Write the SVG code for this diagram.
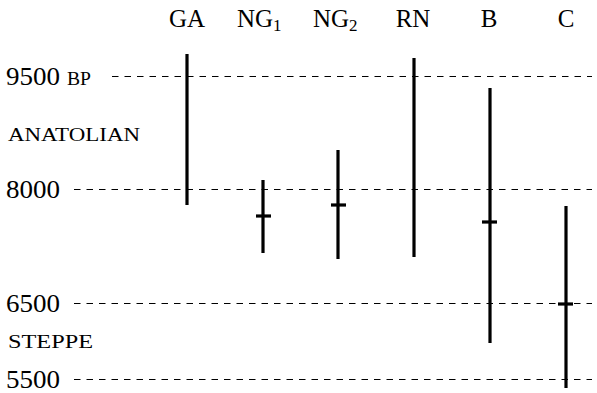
<svg xmlns="http://www.w3.org/2000/svg" width="597" height="393" viewBox="0 0 597 393">
<style>
.grid line{stroke:#000;stroke-width:1;stroke-dasharray:6.5 6}
.bars line{stroke:#000;stroke-width:3.2}
</style>
<rect width="597" height="393" fill="#fff"/>
<g id="axis-labels" font-family="'Liberation Serif', 'DejaVu Serif', serif" fill="#000">
<text font-size="25" x="6" y="85" textLength="54" lengthAdjust="spacingAndGlyphs">9500</text>
<text font-size="19.5" x="67" y="85" textLength="24" lengthAdjust="spacingAndGlyphs">BP</text>
<text font-size="19.5" x="8" y="141" textLength="132" lengthAdjust="spacingAndGlyphs">ANATOLIAN</text>
<text font-size="25" x="6" y="198" textLength="54" lengthAdjust="spacingAndGlyphs">8000</text>
<text font-size="25" x="6" y="312" textLength="54" lengthAdjust="spacingAndGlyphs">6500</text>
<text font-size="19.5" x="8" y="348" textLength="85" lengthAdjust="spacingAndGlyphs">STEPPE</text>
<text font-size="25" x="6" y="388" textLength="54" lengthAdjust="spacingAndGlyphs">5500</text>
</g>
<g id="column-labels" font-family="'Liberation Serif', 'DejaVu Serif', serif" font-size="25" fill="#000">
<text x="187" y="27" text-anchor="middle">GA</text>
<text x="237" y="27">NG<tspan font-size="17" dy="4">1</tspan></text>
<text x="313" y="27">NG<tspan font-size="17" dy="4">2</tspan></text>
<text x="413" y="27" text-anchor="middle">RN</text>
<text x="489" y="27" text-anchor="middle">B</text>
<text x="566" y="27" text-anchor="middle">C</text>
</g>
<g id="connectors" class="grid">
<line x1="112" y1="76.5" x2="592" y2="76.5"/>
<line x1="74" y1="189.5" x2="592" y2="189.5"/>
<line x1="74" y1="303.5" x2="592" y2="303.5"/>
<line x1="74" y1="379.5" x2="592" y2="379.5"/>
</g>
<g class="bars">
<g id="GA"><line x1="187" y1="54" x2="187" y2="205"/></g>
<g id="NG1"><line x1="263" y1="180" x2="263" y2="253"/><line x1="256" y1="216" x2="271" y2="216"/></g>
<g id="NG2"><line x1="338" y1="150" x2="338" y2="259"/><line x1="331" y1="205" x2="346" y2="205"/></g>
<g id="RN"><line x1="414" y1="58" x2="414" y2="257"/></g>
<g id="B"><line x1="490" y1="88" x2="490" y2="343"/><line x1="482" y1="222" x2="497" y2="222"/></g>
<g id="C"><line x1="566" y1="206" x2="566" y2="388"/><line x1="558" y1="304" x2="573" y2="304"/></g>
</g>
</svg>
